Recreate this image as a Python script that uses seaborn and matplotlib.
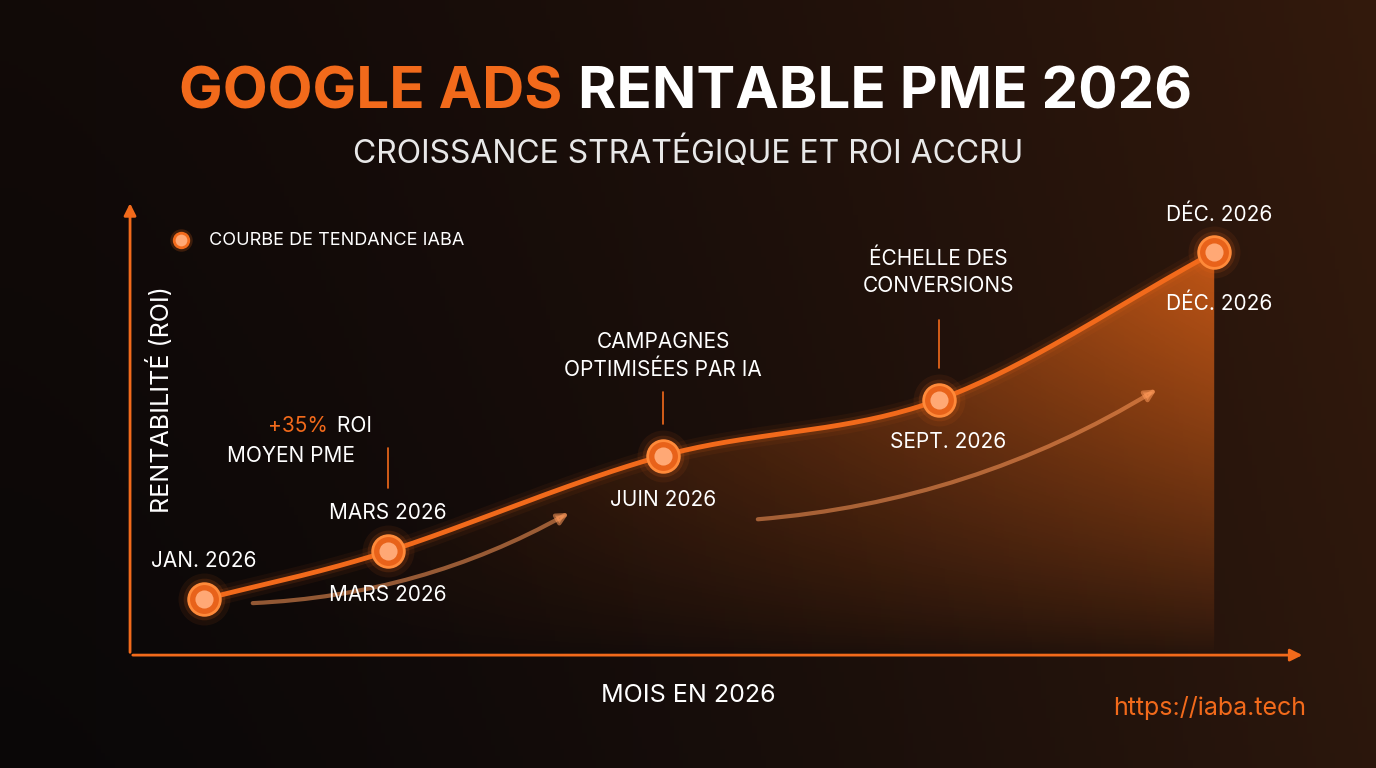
import numpy as np
import matplotlib
matplotlib.use("Agg")
import matplotlib.pyplot as plt
import seaborn as sns
from matplotlib.path import Path
from matplotlib.patches import PathPatch

months = [1, 3, 6, 9, 12]
roi = [14, 26, 50, 64, 101]

sns.set_theme(style="dark")
plt.rcParams['font.family'] = ['Inter', 'DejaVu Sans']
ORANGE = "#f26a1b"

fig = plt.figure(figsize=(13.76, 7.68), dpi=100)
bg = fig.add_axes([0, 0, 1, 1]); bg.axis("off")
gx = np.linspace(0, 1, 300)[None, :]
gy = np.linspace(0, 1, 200)[:, None]
r = 0.04 + 0.13 * gx**1.5 + 0.03 * gy
g = 0.03 + 0.06 * gx**1.5 + 0.01 * gy
b = 0.03 + 0.02 * gx + 0 * gy
bg.imshow(np.dstack([r, g, b]), extent=[0, 1, 0, 1], aspect="auto", origin="lower")
bg.set_xlim(0, 1); bg.set_ylim(0, 1)

ax = fig.add_axes([0.0945, 0.147, 0.854, 0.592])
ax.set_facecolor("none")
ax.set_xlim(0.194, 12.99); ax.set_ylim(0, 114)
ax.set_xticks([]); ax.set_yticks([])
for s in ax.spines.values(): s.set_visible(False)
ax.annotate("", xy=(12.99, 0), xytext=(0.194, 0), xycoords="data",
            arrowprops=dict(arrowstyle="-|>", color=ORANGE, lw=2, mutation_scale=18), annotation_clip=False)
ax.annotate("", xy=(0.194, 114), xytext=(0.194, 0),
            arrowprops=dict(arrowstyle="-|>", color=ORANGE, lw=2, mutation_scale=18), annotation_clip=False)

P = np.array(list(zip(months, roi)), float)
Pext = np.vstack([2*P[0]-P[1], P, 2*P[-1]-P[-2]])
xs, ys = [], []
for i in range(1, len(Pext)-2):
    p0, p1, p2, p3 = Pext[i-1], Pext[i], Pext[i+1], Pext[i+2]
    t = np.linspace(0, 1, 40)[:, None]
    c = 0.5*((2*p1) + (-p0+p2)*t + (2*p0-5*p1+4*p2-p3)*t**2 + (-p0+3*p1-3*p2+p3)*t**3)
    xs.extend(c[:, 0]); ys.extend(c[:, 1])
xs, ys = np.array(xs), np.array(ys)

verts = list(zip(xs, ys)) + [(xs[-1], 0), (xs[0], 0)]
poly = PathPatch(Path(verts), facecolor="none", edgecolor="none")
ax.add_patch(poly)
gxx = np.linspace(0, 1, 200)[None, :]
gyy = np.linspace(0, 1, 200)[:, None]
alpha = np.clip(0.75 * gxx**1.3 * gyy**0.8, 0, 1)
img = np.dstack([np.full_like(alpha, 0.95), np.full_like(alpha, 0.42), np.full_like(alpha, 0.1), alpha])
im = ax.imshow(img, extent=[months[0], months[-1], 0, max(roi)], origin="lower", aspect="auto", zorder=1)
im.set_clip_path(poly)
ax.set_xlim(0.194, 12.99); ax.set_ylim(0, 114)

for lw, a in [(14, 0.06), (8, 0.12)]:
    ax.plot(xs, ys, color=ORANGE, lw=lw, alpha=a, solid_capstyle="round", zorder=2)
sns.lineplot(x=xs, y=ys, ax=ax, color=ORANGE, lw=3.5, zorder=3, sort=False)

for s, a in [(1400, 0.08), (900, 0.15)]:
    ax.scatter(months, roi, s=s, color=ORANGE, alpha=a, lw=0, zorder=4)
ax.scatter(months, roi, s=520, color="#e8621a", edgecolor="#ff8a3a", lw=2, zorder=5)
ax.scatter(months, roi, s=170, color="#ffa875", lw=0, zorder=6)

for (x0, y0), (x1, y1) in [((1.5, 13), (5.0, 36)), ((7.0, 34), (11.4, 67))]:
    ax.annotate("", xy=(x1, y1), xytext=(x0, y0),
                arrowprops=dict(arrowstyle="-|>", color="#ff9a5a", lw=3, alpha=0.55,
                                connectionstyle="arc3,rad=0.12", mutation_scale=16), zorder=3)

fs = 15
tc = "white"
ax.text(1, 21, "JAN. 2026", color=tc, fontsize=fs, ha="center", va="bottom")
ax.text(3, 33, "MARS 2026", color=tc, fontsize=fs, ha="center", va="bottom")
ax.text(3, 15, "MARS 2026", color=tc, fontsize=fs, ha="center", va="center")
ax.text(6, 39, "JUIN 2026", color=tc, fontsize=fs, ha="center", va="center")
ax.text(9.1, 53.5, "SEPT. 2026", color=tc, fontsize=fs, ha="center", va="center")
ax.text(12.05, 110.5, "DÉC. 2026", color=tc, fontsize=fs, ha="center", va="center")
ax.text(12.05, 88, "DÉC. 2026", color=tc, fontsize=fs, ha="center", va="center")
ax.text(6, 75, "CAMPAGNES\nOPTIMISÉES PAR IA", color=tc, fontsize=fs, ha="center", va="center", linespacing=1.4)
ax.plot([6, 6], [58, 66], color=ORANGE, lw=1.2)
ax.text(9, 96, "ÉCHELLE DES\nCONVERSIONS", color=tc, fontsize=fs, ha="center", va="center", linespacing=1.4)
ax.plot([9, 9], [72, 84], color=ORANGE, lw=1.2)
ax.text(2.35, 57.5, "+35%", color=ORANGE, fontsize=fs, ha="right", va="center")
ax.text(2.38, 57.5, " ROI", color=tc, fontsize=fs, ha="left", va="center")
ax.text(1.95, 50, "MOYEN PME", color=tc, fontsize=fs, ha="center", va="center")
ax.plot([3, 3], [42, 52], color=ORANGE, lw=1.2)

ax.scatter([0.75], [104], s=260, color=ORANGE, alpha=0.2, lw=0)
ax.scatter([0.75], [104], s=110, color="#ffa875", edgecolor=ORANGE, lw=2)
ax.text(1.05, 104, "COURBE DE TENDANCE IABA", color=tc, fontsize=13, va="center")

fig.text(0.117, 0.48, "RENTABILITÉ (ROI)", color=tc, fontsize=18, rotation=90, ha="center", va="center")
fig.text(0.5, 0.095, "MOIS EN 2026", color=tc, fontsize=18, ha="center", va="center")
fig.text(0.949, 0.078, "https://iaba.tech", color=ORANGE, fontsize=18, ha="right", va="center")

fig.text(0.4085, 0.878, "GOOGLE ADS", color=ORANGE, fontsize=42, fontweight="bold", ha="right", va="center")
fig.text(0.42, 0.878, "RENTABLE PME 2026", color="white", fontsize=42, fontweight="bold", ha="left", va="center")
fig.text(0.5, 0.8, "CROISSANCE STRATÉGIQUE ET ROI ACCRU", color="#e8e8e8", fontsize=23, ha="center", va="center")

fig.savefig("out.png", dpi=100)
